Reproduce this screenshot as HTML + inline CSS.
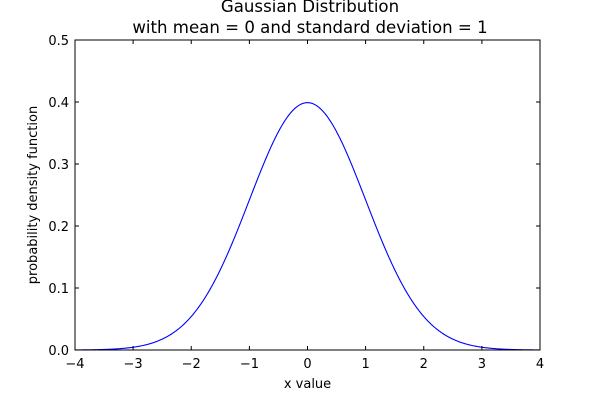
<!DOCTYPE html>
<html><head><meta charset="utf-8"><style>body{margin:0;background:#fff}</style></head><body>
<svg width="600" height="400" xmlns="http://www.w3.org/2000/svg" font-family="DejaVu Sans, Liberation Sans, sans-serif">
<rect width="600" height="400" fill="#fff"/>
<polyline id="c" fill="none" stroke="#0000ff" stroke-width="1.1" points="75,349.92 89.53,349.78 104.06,349.46 118.59,348.74 133.13,347.25 147.66,344.36 162.19,339.13 176.72,330.32 191.25,316.53 205.78,296.51 220.31,269.70 234.84,236.76 249.38,199.98 263.91,163.29 278.44,131.72 292.97,110.26 307.5,102.66 322.03,110.26 336.56,131.72 351.09,163.29 365.63,199.98 380.16,236.76 394.69,269.70 409.22,296.51 423.75,316.53 438.28,330.32 452.81,339.13 467.34,344.36 481.88,347.25 496.41,348.74 510.94,349.46 525.47,349.78 540,349.92"/>
<script>
(function(){var p=[];for(var i=0;i<=800;i++){var x=-4+i*0.01;var y=Math.exp(-x*x/2)/Math.sqrt(2*Math.PI);p.push((75+(x+4)*58.125).toFixed(2)+","+(350-y*620).toFixed(2));}document.getElementById("c").setAttribute("points",p.join(" "));})();
</script>
<rect x="75" y="40" width="465" height="310" fill="none" stroke="#000" stroke-width="1"/>
<g stroke="#000" stroke-width="1">
<path d="M75,350v-4M133.1,350v-4M191.25,350v-4M249.4,350v-4M307.5,350v-4M365.6,350v-4M423.75,350v-4M481.9,350v-4M540,350v-4"/>
<path d="M75,40v4M133.1,40v4M191.25,40v4M249.4,40v4M307.5,40v4M365.6,40v4M423.75,40v4M481.9,40v4M540,40v4"/>
<path d="M75,350h4M75,288h4M75,226h4M75,164h4M75,102h4M75,40h4"/>
<path d="M540,350h-4M540,288h-4M540,226h-4M540,164h-4M540,102h-4M540,40h-4"/>
</g>
<g font-size="13" text-anchor="middle">
<text x="75" y="368">−4</text><text x="133.1" y="368">−3</text><text x="191.25" y="368">−2</text><text x="249.4" y="368">−1</text><text x="307.5" y="368">0</text><text x="365.6" y="368">1</text><text x="423.75" y="368">2</text><text x="481.9" y="368">3</text><text x="540" y="368">4</text>
</g>
<g font-size="13" text-anchor="end">
<text x="69" y="355">0.0</text><text x="69" y="293">0.1</text><text x="69" y="231">0.2</text><text x="69" y="169">0.3</text><text x="69" y="107">0.4</text><text x="69" y="45">0.5</text>
</g>
<text x="307.5" y="388" font-size="13" text-anchor="middle">x value</text>
<text transform="translate(37,195) rotate(-90)" font-size="13" text-anchor="middle">probability density function</text>
<text x="310" y="12" font-size="16.6" text-anchor="middle">Gaussian Distribution</text>
<text x="310" y="33" font-size="16.6" text-anchor="middle">with mean = 0 and standard deviation = 1</text>
</svg>
</body></html>
